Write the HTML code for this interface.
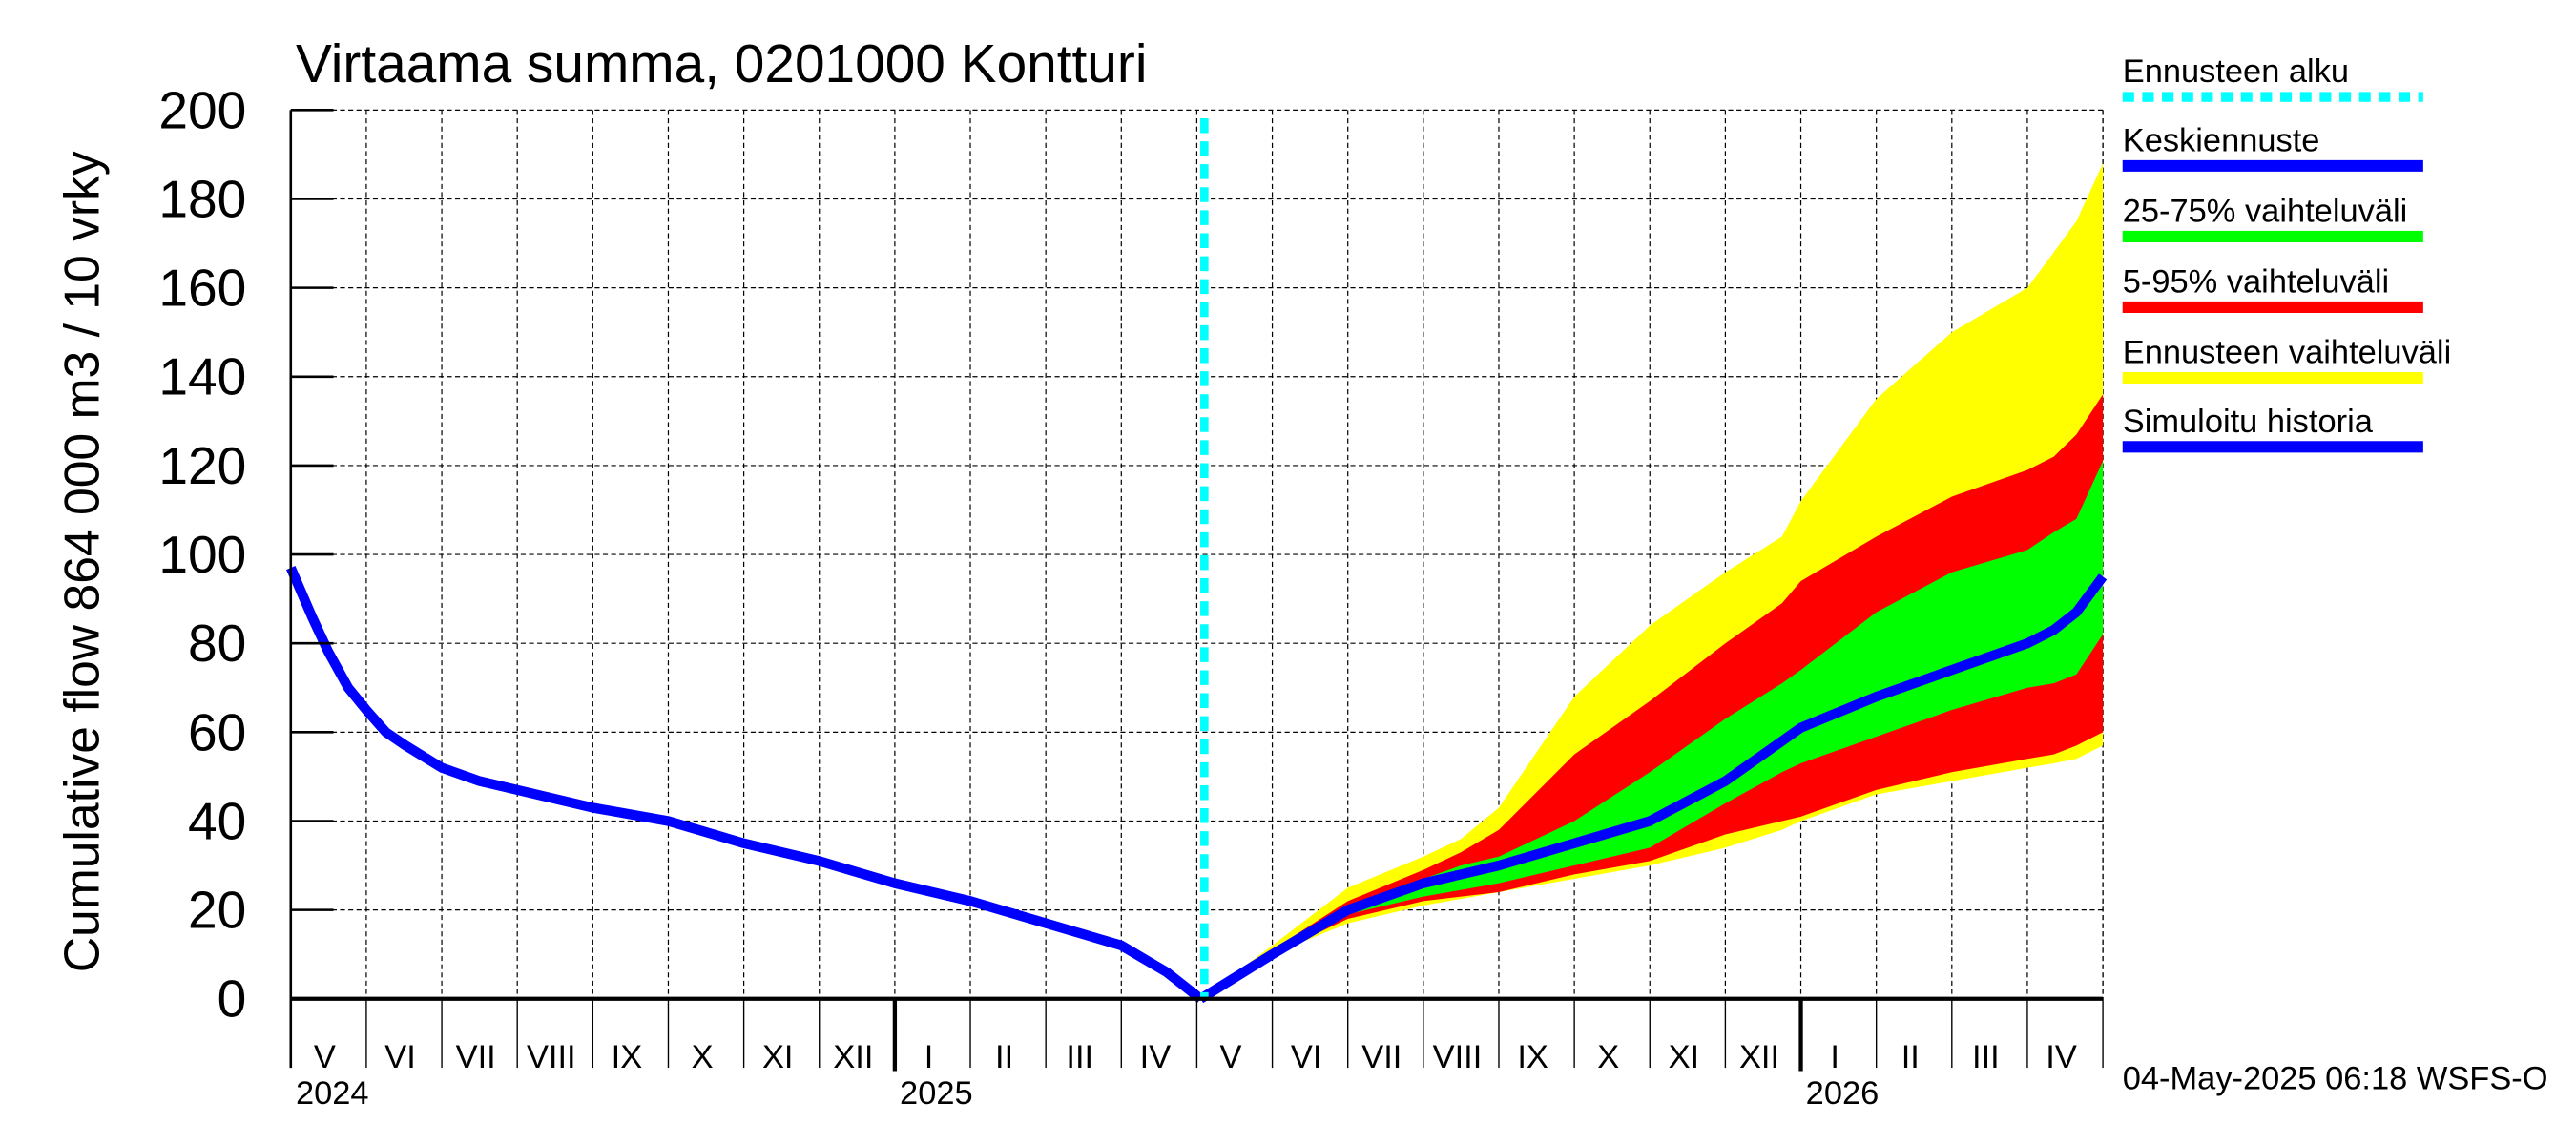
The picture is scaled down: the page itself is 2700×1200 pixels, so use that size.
<!DOCTYPE html>
<html><head><meta charset="utf-8"><style>html,body{margin:0;padding:0;background:#fff}svg{display:block}text{font-family:"Liberation Sans",sans-serif}</style></head>
<body>
<svg id="chart" width="2700" height="1200" viewBox="0 0 1568 697" preserveAspectRatio="none" xmlns="http://www.w3.org/2000/svg">
<rect x="0" y="0" width="1568" height="697" fill="#fff"/>
<g id="grid"></g>
<g id="bands"></g>
<g id="lines"></g>
<g id="axes"></g>
<text x="180" y="50" font-size="33">Virtaama summa, 0201000 Kontturi</text>
<text transform="translate(60,342) rotate(-90)" text-anchor="middle" font-size="30">Cumulative flow    864 000 m3 / 10 vrky</text>
<g font-size="20">
<text x="1292" y="50">Ennusteen alku</text>
<line x1="1292" y1="59" x2="1475" y2="59" stroke="#00ffff" stroke-width="6" stroke-dasharray="7,5"/>
<text x="1292" y="92">Keskiennuste</text>
<line x1="1292" y1="101" x2="1475" y2="101" stroke="#0000ff" stroke-width="7"/>
<text x="1292" y="135">25-75% vaihteluväli</text>
<line x1="1292" y1="144" x2="1475" y2="144" stroke="#00ff00" stroke-width="7"/>
<text x="1292" y="178">5-95% vaihteluväli</text>
<line x1="1292" y1="187" x2="1475" y2="187" stroke="#ff0000" stroke-width="7"/>
<text x="1292" y="221">Ennusteen vaihteluväli</text>
<line x1="1292" y1="230" x2="1475" y2="230" stroke="#ffff00" stroke-width="7"/>
<text x="1292" y="263">Simuloitu historia</text>
<line x1="1292" y1="272" x2="1475" y2="272" stroke="#0000ff" stroke-width="7"/>
</g>
<text x="1292" y="663" font-size="20">04-May-2025 06:18 WSFS-O</text>
</svg>
<script>
const histT=[0,0.28,0.5,0.76,1,1.26,1.52,2,2.5,3,4,5,6,7,8,9,10,11,11.4,11.6,12.05];
const histV=[97,86,78,70,65,60,57,52,49,47,43,40,35,31,26,22,17,12,8,6,0];
const fcT=[12.05,13,14,15,15.5,16,17,18,19,19.75,20,21,22,23,23.35,23.65,24];
const yellowUp=[0,12,25,32,36,43,68,84,96,104,112,135,150,160,168,175,188];
const yellowLo=[0,10,17,21,22.5,24,27,30,34,38,40,46,49,52,53,54,57];
const redUp=[0,11,22,29,33,38,55,67,80,89,94,104,113,119,122,127,136];
const redLo=[0,10,18,22,23,24,28,31,37,40,41,47,51,54,55,57,60];
const greenUp=[0,11,21,27,30,32,40,51,63,71,74,87,96,101,105,108,121];
const greenLo=[0,10,19,23,24.5,26,30,34,44,51,53,59,65,70,71,73,82];
const median=[0,10,20,26,28,30,35,40,49,58,61,68,74,80,83,87,95];
const yTicks=[0,20,40,60,80,100,120,140,160,180,200];
const monthLabels=["V","VI","VII","VIII","IX","X","XI","XII","I","II","III","IV","V","VI","VII","VIII","IX","X","XI","XII","I","II","III","IV"];
const yearLabels=[["2024",0],["2025",8],["2026",20]];
const forecastStart=12.1;
const L=177,R=1280,T=67,B=608,NM=24;
const sx=t=>L+(R-L)*t/NM, sy=v=>B-(B-T)*v/200;
const NS="http://www.w3.org/2000/svg";
function mk(p,tag,a){const e=document.createElementNS(NS,tag);for(const k in a)e.setAttribute(k,a[k]);p.appendChild(e);return e;}
const grid=document.getElementById('grid'),bands=document.getElementById('bands'),lines=document.getElementById('lines'),axes=document.getElementById('axes');
yTicks.forEach(v=>{
 if(v>0){const g=mk(grid,'line',{x1:L,x2:R,y1:sy(v),y2:sy(v),stroke:'#000','stroke-width':0.7,'stroke-dasharray':'3,2'});
 }
 const tk=mk(axes,'line',{x1:L,x2:L+26,y1:sy(v),y2:sy(v),stroke:'#000','stroke-width':1.5});
 
 const tx=mk(axes,'text',{x:150,y:sy(v)+11,'text-anchor':'end','font-size':32});tx.textContent=v;
 
});
for(let m=1;m<=NM;m++){
 const x=sx(m);
 const g=mk(grid,'line',{x1:x,x2:x,y1:T,y2:B,stroke:'#000','stroke-width':0.7,'stroke-dasharray':'3,2'});
 
 const yr=(m===8||m===20);
 const tk=mk(axes,'line',{x1:x,x2:x,y1:B,y2:yr?652:650,stroke:'#000','stroke-width':yr?2.5:0.8});
 
}
monthLabels.forEach((s,i)=>{const tx=mk(axes,'text',{x:sx(i+0.45),y:650,'text-anchor':'middle','font-size':20});tx.textContent=s;
 });
yearLabels.forEach(([s,m])=>{const tx=mk(axes,'text',{x:sx(m)+3,y:672,'font-size':20});tx.textContent=s;
 });
const la=mk(axes,'line',{x1:L,x2:L,y1:T,y2:650,stroke:'#000','stroke-width':1.5});

const ba=mk(axes,'line',{x1:L,x2:R,y1:B,y2:B,stroke:'#000','stroke-width':2.5});

const ra=mk(grid,'line',{x1:R,x2:R,y1:T,y2:B,stroke:'#000','stroke-width':0.7,'stroke-dasharray':'3,2'});

function band(up,lo,col,name){
 let d='M'+fcT.map((t,i)=>sx(t)+','+sy(up[i])).join('L');
 for(let i=fcT.length-1;i>=0;i--)d+='L'+sx(fcT[i])+','+sy(lo[i]);
 const p=mk(bands,'path',{d:d+'Z',fill:col});
 
}
band(yellowUp,yellowLo,'#ffff00','band-full-range');
band(redUp,redLo,'#ff0000','band-5-95');
band(greenUp,greenLo,'#00ff00','band-25-75');
const h=mk(lines,'polyline',{points:histT.map((t,i)=>sx(t)+','+sy(histV[i])).join(' '),fill:'none',stroke:'#0000ff','stroke-width':6,'stroke-linejoin':'round'});

const md=mk(lines,'polyline',{points:fcT.map((t,i)=>sx(t)+','+sy(median[i])).join(' '),fill:'none',stroke:'#0000ff','stroke-width':6,'stroke-linejoin':'round'});

const fs=mk(lines,'line',{x1:sx(forecastStart),x2:sx(forecastStart),y1:72,y2:B,stroke:'#00ffff','stroke-width':5,'stroke-dasharray':'9,5'});

</script>
</body></html>
